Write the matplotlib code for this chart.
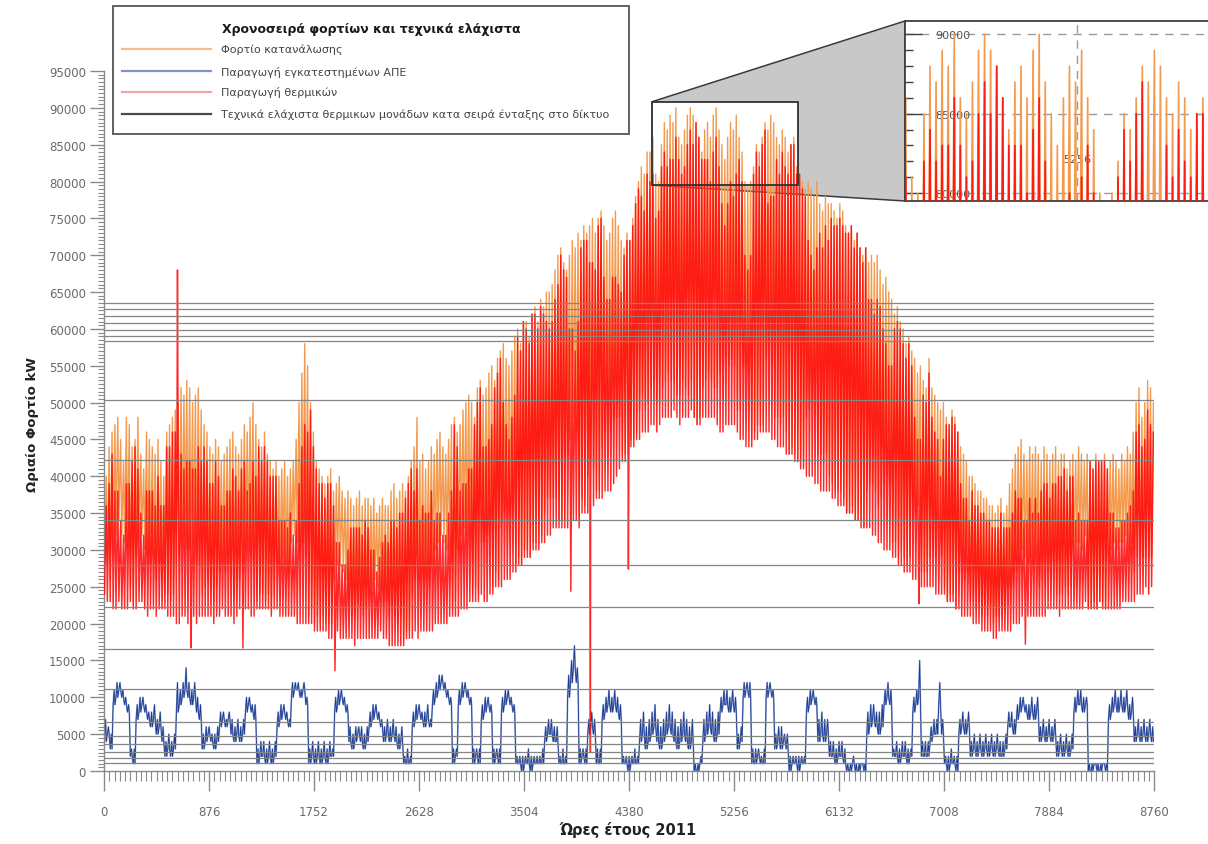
import numpy as np
import matplotlib
matplotlib.use("Agg")
import matplotlib.pyplot as plt
from matplotlib.ticker import MultipleLocator, AutoMinorLocator, FixedLocator
from matplotlib.patches import Polygon, Rectangle
from matplotlib.lines import Line2D

# ---------------- texts ----------------
TITLE = "Χρονοσειρά φορτίων και τεχνικά ελάχιστα"
LEGEND_LABELS = ["Φορτίο κατανάλωσης",
                 "Παραγωγή εγκατεστημένων ΑΠΕ",
                 "Παραγωγή θερμικών",
                 "Τεχνικά ελάχιστα θερμικων μονάδων κατα σειρά ένταξης στο δίκτυο"]
X_LABEL = "Ώρες έτους 2011"
Y_LABEL = "Ωριαίο Φορτίο kW"
X_TICKS = [0, 876, 1752, 2628, 3504, 4380, 5256, 6132, 7008, 7884, 8760]
Y_TICKS = list(range(0, 95001, 5000))

# ---------------- data (thousand kW), one value per day ----------------
# daily (evening) peak of consumption load
LOAD_PEAK_K = [
    40, 44, 46, 47, 48, 45, 42, 48, 47, 44, 45, 48, 43, 41, 46, 45, 44, 43, 45, 42, 40,
    46, 47, 48, 49, 50, 52, 51, 53, 52, 50, 51, 52, 49, 47, 46, 44, 43, 45, 44, 42, 43,
    44, 45, 46, 44, 43, 45, 47, 46, 48, 50, 47, 45, 44, 46, 43, 42, 41, 42, 40, 41, 42,
    40, 41, 42, 45, 50, 54, 58, 55, 50, 46, 42, 41, 40, 39, 40, 41, 38, 39, 40, 38, 37,
    38, 37, 36, 37, 38, 36, 37, 37, 36, 37, 35, 36, 37, 36, 36, 38, 39, 37, 38, 39, 38,
    40, 42, 44, 48, 42, 43, 41, 42, 44, 43, 45, 46, 44, 43, 45, 47, 48, 46, 47, 49, 50,
    51, 50, 48, 52, 53, 51, 52, 54, 55, 53, 56, 57, 58, 56, 55, 57, 59, 60, 58, 61, 61,
    59, 62, 63, 61, 64, 63, 65, 65, 66, 68, 70, 71, 69, 68, 70, 72, 71, 73, 72, 74, 73,
    74, 75, 73, 75, 76, 74, 72, 73, 75, 76, 74, 72, 71, 73, 72, 75, 78, 80, 82, 81, 84,
    84, 86, 81, 80, 85, 88, 87, 89, 88, 90, 86, 85, 87, 89, 90, 89, 88, 86, 84, 87, 88,
    86, 89, 90, 87, 85, 83, 86, 88, 87, 89, 86, 84, 80, 79, 80, 82, 85, 84, 86, 88, 87,
    89, 88, 86, 85, 87, 86, 84, 85, 86, 82, 81, 80, 79, 80, 79, 78, 80, 77, 76, 78, 77,
    77, 76, 75, 77, 76, 74, 73, 74, 72, 73, 71, 70, 71, 69, 70, 69, 70, 68, 66, 67, 65,
    64, 62, 63, 61, 60, 58, 59, 57, 56, 54, 55, 53, 52, 56, 52, 51, 50, 49, 50, 48, 47,
    49, 48, 46, 44, 43, 42, 40, 40, 39, 38, 38, 37, 37, 36, 36, 35, 36, 37, 35, 36, 39,
    41, 43, 44, 45, 43, 42, 44, 43, 44, 43, 42, 44, 43, 42, 43, 44, 42, 43, 43, 41, 42,
    43, 42, 44, 43, 42, 43, 42, 41, 43, 42, 42, 43, 41, 42, 43, 42, 41, 43, 42, 44, 43,
    46, 50, 52, 48, 50, 53, 52, 50]
# daily (night) low of thermal production
THERM_LOW_K = [
    24, 23, 23, 22, 22, 23, 22, 22, 22, 23, 22, 22, 23, 23, 22, 21, 22, 22, 21, 22, 22,
    22, 21, 21, 21, 20, 20, 21, 21, 20, 21, 21, 20, 21, 21, 21, 21, 21, 20, 21, 21, 22,
    21, 21, 21, 20, 21, 22, 22, 22, 22, 21, 21, 22, 22, 22, 22, 22, 21, 22, 22, 21, 21,
    21, 21, 21, 21, 20, 20, 20, 20, 20, 20, 19, 19, 19, 19, 19, 18, 18, 18, 19, 18, 18,
    18, 18, 18, 17, 18, 18, 18, 18, 18, 18, 18, 18, 19, 18, 18, 17, 17, 17, 17, 17, 17,
    18, 18, 18, 19, 18, 19, 19, 19, 19, 19, 20, 20, 20, 20, 20, 21, 21, 21, 21, 22, 22,
    22, 23, 23, 23, 23, 24, 23, 23, 24, 24, 25, 25, 25, 26, 26, 26, 27, 27, 28, 28, 29,
    29, 29, 30, 30, 30, 31, 31, 32, 32, 33, 33, 33, 33, 33, 33, 33, 34, 34, 33, 35, 35,
    35, 36, 36, 37, 37, 37, 38, 38, 38, 39, 40, 41, 42, 42, 43, 44, 44, 45, 45, 46, 46,
    46, 47, 47, 46, 47, 48, 48, 48, 48, 49, 48, 47, 48, 48, 48, 49, 48, 47, 47, 48, 48,
    48, 48, 48, 47, 46, 46, 47, 47, 47, 47, 46, 45, 45, 44, 44, 44, 45, 45, 46, 46, 46,
    46, 45, 45, 44, 44, 44, 43, 43, 43, 42, 42, 41, 41, 40, 40, 40, 39, 39, 38, 38, 38,
    38, 37, 37, 36, 36, 36, 35, 35, 35, 34, 34, 33, 33, 33, 33, 32, 32, 31, 31, 30, 30,
    30, 29, 29, 28, 28, 27, 27, 27, 26, 26, 26, 25, 25, 25, 25, 25, 24, 24, 24, 24, 23,
    23, 23, 22, 22, 21, 21, 21, 21, 20, 20, 20, 19, 19, 19, 19, 18, 18, 19, 19, 19, 19,
    19, 20, 20, 20, 21, 21, 21, 21, 21, 21, 21, 21, 21, 22, 22, 22, 22, 21, 22, 22, 22,
    22, 22, 22, 22, 22, 23, 22, 22, 22, 22, 23, 22, 22, 22, 22, 22, 22, 22, 23, 23, 23,
    23, 23, 24, 24, 24, 25, 24, 25]
# renewable (RES) production: night/evening value and midday value of each day
RES_NIGHT_K = [
    4, 5, 3, 9, 10, 11, 10, 9, 8, 2, 1, 7, 8, 9, 8, 7, 6, 7, 5, 6, 4, 2, 3, 2, 3, 8,
    9, 10, 11, 10, 9, 10, 8, 7, 3, 4, 5, 4, 3, 4, 6, 7, 6, 7, 5, 4, 5, 4, 5, 8, 9, 8, 7,
    1, 2, 2, 1, 2, 1, 2, 6, 7, 8, 7, 6, 10, 11, 11, 10, 11, 9, 1, 2, 1, 2, 1, 2, 1, 2, 2,
    8, 9, 10, 9, 8, 4, 3, 4, 5, 4, 3, 4, 6, 7, 8, 7, 6, 4, 5, 4, 5, 4, 3, 4, 1, 1, 1,
    6, 7, 8, 7, 6, 7, 6, 9, 10, 11, 12, 11, 10, 9, 1, 2, 9, 10, 11, 10, 9, 1, 2, 1,
    7, 8, 9, 8, 1, 2, 1, 8, 9, 10, 9, 8, 1, 1, 0, 1, 1, 0, 1, 1, 1, 1, 4, 5, 5, 4, 4,
    1, 1, 1, 10, 12, 14, 12, 1, 2, 1, 5, 6, 5, 1, 1, 7, 8, 9, 8, 9, 8, 7, 1, 1, 0, 1, 1, 1,
    4, 5, 3, 4, 5, 6, 4, 3, 4, 5, 6, 5, 4, 3, 4, 5, 4, 3, 4, 0, 0, 1, 4, 5, 6, 5, 4, 5,
    8, 9, 9, 8, 9, 8, 3, 4, 10, 11, 10, 1, 1, 2, 1, 1, 10, 11, 10, 3, 4, 3, 4, 3,
    0, 1, 1, 0, 1, 1, 8, 9, 10, 9, 4, 5, 4, 5, 2, 2, 1, 2, 2, 1, 0, 0, 1, 0, 0, 1, 0,
    5, 6, 7, 6, 5, 6, 9, 10, 9, 2, 2, 1, 2, 2, 1, 2, 8, 9, 10, 2, 2, 2, 4, 5, 5, 9, 5,
    1, 0, 1, 1, 0, 5, 6, 5, 6, 2, 3, 2, 3, 2, 3, 2, 3, 2, 3, 2, 2, 3, 6, 6, 5,
    7, 8, 9, 8, 7, 8, 7, 8, 4, 5, 4, 5, 4, 5, 2, 3, 2, 3, 2, 3, 8, 9, 9, 8, 9,
    0, 0, 1, 0, 0, 1, 0, 7, 8, 9, 8, 9, 8, 9, 7, 8, 4, 5, 4, 5, 4, 5, 4]
RES_DAY_K = [
    7, 6, 5, 11, 12, 12, 11, 10, 9, 3, 3, 9, 10, 10, 9, 8, 8, 9, 7, 8, 6, 4, 5, 4, 5, 12,
    11, 12, 14, 12, 11, 12, 10, 9, 5, 6, 6, 5, 5, 6, 8, 8, 7, 8, 7, 6, 7, 6, 7, 10, 10, 9, 9,
    3, 4, 4, 3, 4, 3, 4, 8, 9, 9, 8, 7, 12, 12, 12, 11, 12, 10, 3, 4, 3, 4, 3, 4, 3, 4, 3,
    10, 11, 11, 10, 9, 6, 5, 6, 6, 6, 5, 6, 8, 9, 9, 8, 7, 6, 7, 6, 7, 6, 5, 6, 2, 3, 2,
    8, 9, 9, 8, 8, 9, 7, 11, 12, 13, 13, 12, 11, 10, 3, 3, 11, 12, 12, 11, 10, 3, 3, 3,
    9, 10, 10, 9, 3, 3, 3, 10, 11, 11, 10, 9, 2, 2, 2, 2, 3, 2, 2, 2, 2, 3, 6, 7, 7, 6, 6,
    2, 3, 2, 13, 15, 17, 14, 3, 3, 3, 7, 8, 7, 3, 3, 9, 10, 11, 10, 11, 10, 9, 2, 2, 2, 2, 3, 2,
    7, 8, 6, 7, 8, 9, 7, 6, 7, 8, 9, 8, 7, 6, 7, 8, 7, 6, 7, 1, 1, 2, 7, 8, 9, 8, 7, 8,
    10, 11, 11, 10, 11, 10, 5, 6, 12, 12, 12, 3, 3, 3, 2, 3, 12, 12, 11, 5, 6, 6, 5, 5,
    2, 2, 2, 2, 2, 2, 10, 11, 11, 10, 7, 8, 7, 7, 4, 4, 3, 4, 4, 3, 1, 1, 2, 1, 1, 1, 1,
    8, 9, 9, 8, 8, 9, 11, 12, 11, 3, 4, 3, 4, 4, 3, 3, 10, 11, 15, 4, 4, 4, 6, 7, 7, 12, 7,
    2, 2, 3, 2, 2, 7, 8, 7, 8, 4, 5, 4, 5, 4, 5, 4, 5, 4, 5, 4, 4, 5, 8, 8, 7,
    9, 10, 10, 9, 9, 10, 9, 10, 6, 7, 6, 7, 6, 7, 4, 5, 4, 5, 4, 5, 10, 11, 11, 10, 10,
    1, 1, 1, 1, 1, 1, 1, 9, 10, 11, 10, 11, 10, 11, 9, 10, 6, 7, 6, 7, 6, 7, 6]
# isolated hourly events of thermal production (hour of year, thousand kW)
THERM_EVENT_HOURS = [613, 727, 1159, 1927, 3895, 4058, 4375, 6799, 7687]
THERM_EVENT_K = [68, 16.7, 16.7, 13.6, 24.4, 2.5, 27.4, 22.7, 17.2]
# technical minima of thermal units (kW)
TECH_MIN_KW = [63500, 62700, 61800, 60800, 59800, 59000, 58300, 50300, 42200, 34100,
               28000, 22300, 16600, 11100, 6600, 4700, 3600, 2600, 1800, 1100]
# zoomed window (hours, kW)
ZOOM_X = (4576, 5787)
ZOOM_Y = (79500, 90850)
ZOOM_TICK_X = [5256]
ZOOM_TICK_Y = [80000, 85000, 90000]

n = len(LOAD_PEAK_K)
assert len(THERM_LOW_K) == n and len(RES_NIGHT_K) == n and len(RES_DAY_K) == n, \
    (n, len(THERM_LOW_K), len(RES_NIGHT_K), len(RES_DAY_K))

load_peak = np.array(LOAD_PEAK_K, float) * 1000
therm_low = np.array(THERM_LOW_K, float) * 1000
res_n = np.array(RES_NIGHT_K, float) * 1000
res_d = np.array(RES_DAY_K, float) * 1000
day = np.arange(n)

# load / thermal: night low at 04:00, evening peak at 19:00
hours = np.empty(2 * n)
hours[0::2] = day * 24 + 4
hours[1::2] = day * 24 + 19
load = np.empty(2 * n); load[0::2] = therm_low + res_n; load[1::2] = load_peak
therm = np.empty(2 * n); therm[0::2] = therm_low; therm[1::2] = load_peak - res_n
# RES: 04:00 night, 13:00 midday, 19:00 evening
res_h = np.empty(3 * n)
res_h[0::3] = day * 24 + 4
res_h[1::3] = day * 24 + 13
res_h[2::3] = day * 24 + 19
res = np.empty(3 * n); res[0::3] = res_n; res[1::3] = res_d; res[2::3] = res_n

th_h = np.concatenate([hours, THERM_EVENT_HOURS])
th_v = np.concatenate([therm, np.array(THERM_EVENT_K) * 1000])
order = np.argsort(th_h, kind="stable")
th_h, th_v = th_h[order], th_v[order]

ORANGE = "#F39A4E"
RED = "#FF0A0A"
BLUE_LIGHT = "#8FA8DA"
BLUE = "#1E3A8E"
GREY = "#858585"
TXT = "#6A6A6A"

W, H = 1208, 845
fig = plt.figure(figsize=(W / 100, H / 100), dpi=100)
fig.patch.set_facecolor("white")


def fx(px):
    return px / W


def fy(py):
    return 1 - py / H


ax = fig.add_axes([fx(104), fy(772), fx(1154) - fx(104), fy(72) - fy(772)])


def draw_series(a, lw):
    a.plot(hours, load, color=ORANGE, lw=lw, zorder=2)
    a.plot(res_h, res, color=BLUE_LIGHT, lw=lw * 1.2, zorder=2.1)
    a.plot(res_h, res, color=BLUE, lw=lw * 0.6, zorder=2.2)
    a.plot(th_h, th_v, color=RED, lw=lw * 1.05, alpha=0.88, zorder=3)


draw_series(ax, 1.0)
ax.hlines(TECH_MIN_KW, 0, 8760, colors=GREY, lw=0.9, zorder=4)

ax.set_xlim(0, 8760)
ax.set_ylim(0, 95000)
for s in ("top", "right"):
    ax.spines[s].set_visible(False)
for s in ("left", "bottom"):
    ax.spines[s].set_color("#8A8A8A")
    ax.spines[s].set_linewidth(1.0)
ax.xaxis.set_major_locator(FixedLocator(X_TICKS))
ax.xaxis.set_minor_locator(AutoMinorLocator(20))
ax.yaxis.set_major_locator(FixedLocator(Y_TICKS))
ax.yaxis.set_minor_locator(MultipleLocator(500))
ax.set_xticklabels([str(v) for v in X_TICKS])
ax.set_yticklabels([str(v) for v in Y_TICKS])
ax.tick_params(axis="x", which="major", length=14.4, width=1, color="#8A8A8A",
               pad=10, labelsize=8.5, labelcolor=TXT)
ax.tick_params(axis="x", which="minor", length=7.2, width=0.8, color="#8A8A8A")
ax.tick_params(axis="y", which="major", length=10, width=1, color="#8A8A8A",
               pad=3, labelsize=8.5, labelcolor=TXT)
ax.tick_params(axis="y", which="minor", length=4.5, width=0.8, color="#8A8A8A")

fig.text(fx(33), fy(425), Y_LABEL, rotation=90, ha="center", va="center",
         fontsize=9.5, fontweight="bold", color="#222222")
fig.text(fx(628), fy(830), X_LABEL, ha="center", va="center",
         fontsize=10.5, fontweight="bold", color="#222222")

# zoom box in main axes
zx0, zx1 = ZOOM_X
zy0, zy1 = ZOOM_Y
ax.add_patch(Rectangle((zx0, zy0), zx1 - zx0, zy1 - zy0, facecolor="white",
                       edgecolor="none", zorder=1.2))
ax.add_patch(Rectangle((zx0, zy0), zx1 - zx0, zy1 - zy0, facecolor="none",
                       edgecolor="#303030", lw=1.3, zorder=6))

# inset
ax_in = fig.add_axes([fx(905), fy(202), fx(306), fy(22) - fy(202)])
draw_series(ax_in, 1.2)
ax_in.set_xlim(zx0, zx1)
ax_in.set_ylim(zy0, zy1)
for s in ax_in.spines.values():
    s.set_color("#404040")
    s.set_linewidth(1.3)
ax_in.yaxis.set_major_locator(FixedLocator(ZOOM_TICK_Y))
ax_in.yaxis.set_minor_locator(MultipleLocator(1000))
ax_in.xaxis.set_major_locator(FixedLocator(ZOOM_TICK_X))
ax_in.set_yticklabels([str(v) for v in ZOOM_TICK_Y])
ax_in.set_xticklabels([str(v) for v in ZOOM_TICK_X])
ax_in.tick_params(axis="y", which="major", direction="in", length=12, width=1,
                  color="#404040", pad=-47, labelsize=8, labelcolor="#555555")
ax_in.tick_params(axis="y", which="minor", direction="in", length=6, width=1,
                  color="#404040")
ax_in.tick_params(axis="x", which="major", direction="in", length=0, pad=-34,
                  labelsize=8, labelcolor="#555555")
ax_in.grid(True, which="major", linestyle=(0, (6, 5)), color="#9A9A9A", lw=1)
ax_in.set_axisbelow(True)

# connector polygon (figure coordinates)
fig.canvas.draw()
inv = fig.transFigure.inverted()
p_tl = inv.transform(ax.transData.transform((zx0, zy1)))
p_bl = inv.transform(ax.transData.transform((zx0, zy0)))
q_tl = inv.transform(ax_in.transAxes.transform((0, 1)))
q_bl = inv.transform(ax_in.transAxes.transform((0, 0)))
ax.add_patch(Polygon([p_tl, q_tl, q_bl, p_bl], closed=True, transform=fig.transFigure,
                     facecolor="#C8C8C8", edgecolor="#3A3A3A", lw=1.1,
                     zorder=1.1, clip_on=False))

# legend (drawn manually as a framed box)
fig.add_artist(Rectangle((fx(113), fy(135)), fx(629) - fx(113), fy(7) - fy(135),
                         transform=fig.transFigure, facecolor="white",
                         edgecolor="#555555", lw=1.3, zorder=10))
fig.text(fx(371), fy(29), TITLE, ha="center", va="center", fontsize=9,
         fontweight="bold", color="#1A1A1A", zorder=11)
leg_colors = ["#F5BE92", "#7C95C9", "#F2A3A8", "#4A4A4A"]
leg_y = [50, 72, 93, 115]
for lab, col, yy in zip(LEGEND_LABELS, leg_colors, leg_y):
    fig.add_artist(Line2D([fx(122), fx(211)], [fy(yy), fy(yy)], transform=fig.transFigure,
                          color=col, lw=1.6, zorder=11))
    fig.text(fx(221), fy(yy), lab, ha="left", va="center", fontsize=8,
             color="#444444", zorder=11)

fig.savefig("out.png", dpi=100, facecolor="white")
